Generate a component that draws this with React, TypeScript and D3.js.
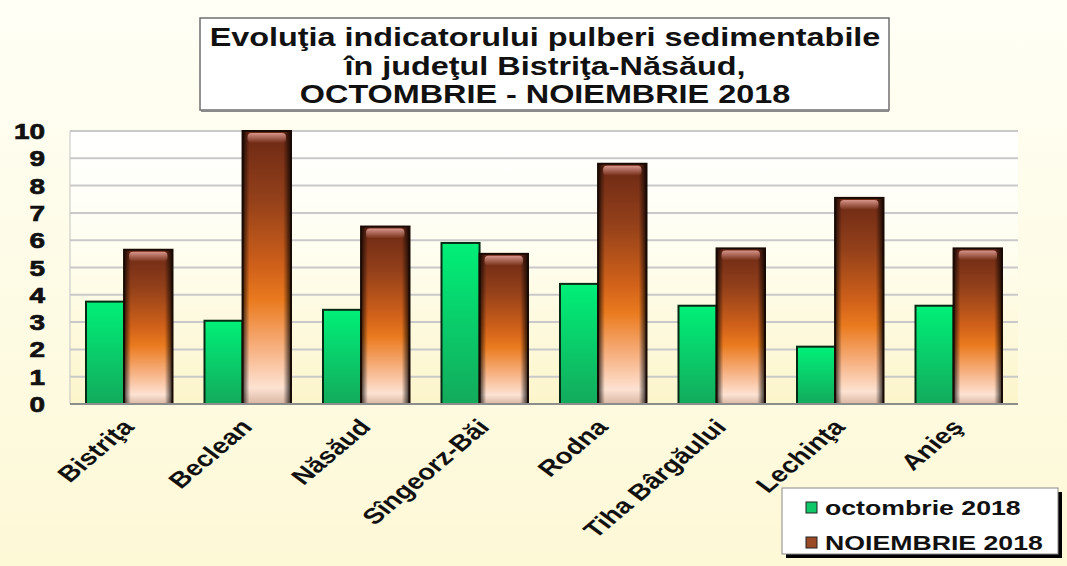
import React from 'react';
import * as d3 from 'd3';

const categories = ['Bistriţa', 'Beclean', 'Năsăud', 'Sîngeorz-Băi', 'Rodna', 'Tiha Bârgăului', 'Lechinţa', 'Anieş'];
const octombrie = [3.75, 3.05, 3.45, 5.9, 4.4, 3.6, 2.1, 3.6];
const noiembrie = [5.65, 10.0, 6.5, 5.5, 8.8, 5.7, 7.55, 5.7];
const yTicks = [0, 1, 2, 3, 4, 5, 6, 7, 8, 9, 10];
const titleLines = ['Evoluţia indicatorului pulberi sedimentabile', 'în judeţul Bistriţa-Năsăud,', 'OCTOMBRIE - NOIEMBRIE 2018'];
const legendLabels = ['octombrie 2018', 'NOIEMBRIE 2018'];

const W = 1067;
const H = 566;
const FONT = '"Liberation Sans", Arial, sans-serif';
const SX = 1.27; // the picture is stretched sideways

const App = () => {
  const plot = { left: 70, right: 1018, top: 131, bottom: 404 };

  const x = d3.scaleBand<string>()
    .domain(categories)
    .range([plot.left, plot.right])
    .paddingInner(0.27)
    .paddingOuter(0.135);
  const y = d3.scaleLinear().domain([0, 10]).range([plot.bottom, plot.top]);
  const bw = x.bandwidth();
  const x1 = d3.scaleLinear().domain([0, 1]).range([0, bw]);
  const split = 0.44;

  return (
    <svg width={W} height={H} style={{ position: 'absolute', left: 0, top: 0 }} fontFamily={FONT}>
      <defs>
        <linearGradient id="bg" x1="0" y1="0" x2="0" y2="1">
          <stop offset="0%" stopColor="#fffff6" />
          <stop offset="100%" stopColor="#fdf8d6" />
        </linearGradient>
        <linearGradient id="plotbg" x1="0" y1="0" x2="0" y2="1">
          <stop offset="0%" stopColor="#ffffff" />
          <stop offset="40%" stopColor="#fffef2" />
          <stop offset="100%" stopColor="#fcf5cb" />
        </linearGradient>
        <linearGradient id="green" x1="0" y1="0" x2="0" y2="1">
          <stop offset="0%" stopColor="#00f078" />
          <stop offset="100%" stopColor="#13aa5c" />
        </linearGradient>
        <linearGradient id="brown" x1="0" y1="0" x2="0" y2="1">
          <stop offset="0%" stopColor="#6b2814" />
          <stop offset="25%" stopColor="#93401a" />
          <stop offset="50%" stopColor="#d0611a" />
          <stop offset="62%" stopColor="#ea7a1e" />
          <stop offset="80%" stopColor="#f7b283" />
          <stop offset="94%" stopColor="#fde2d2" />
          <stop offset="100%" stopColor="#d9b7a3" />
        </linearGradient>
        <linearGradient id="edges" x1="0" y1="0" x2="1" y2="0">
          <stop offset="0%" stopColor="#000" stopOpacity={0.75} />
          <stop offset="14%" stopColor="#000" stopOpacity={0} />
          <stop offset="84%" stopColor="#000" stopOpacity={0} />
          <stop offset="100%" stopColor="#000" stopOpacity={0.8} />
        </linearGradient>
        <linearGradient id="hilite" x1="0" y1="0" x2="0" y2="1">
          <stop offset="0%" stopColor="#f3b0a8" stopOpacity={0.8} />
          <stop offset="100%" stopColor="#f3b0a8" stopOpacity={0} />
        </linearGradient>
      </defs>

      <rect x={0} y={0} width={W} height={H} fill="url(#bg)" />

      {/* title */}
      <rect x={200} y={18} width={689} height={92} fill="#fff" stroke="#6f6f6f" strokeWidth={1.5} />
      <line x1={201} x2={889} y1={111} y2={111} stroke="#8a8a8a" strokeWidth={2} />
      {titleLines.map((t, i) => (
        <text key={t} transform={`translate(545,${46 + i * 28.5}) scale(${SX},1)`} textAnchor="middle"
          fontSize={25.5} fontWeight="bold" fill="#111">{t}</text>
      ))}

      {/* plot area */}
      <rect x={plot.left} y={plot.top} width={plot.right - plot.left} height={plot.bottom - plot.top} fill="url(#plotbg)" />
      {yTicks.filter(t => t > 0).map(t => (
        <line key={t} x1={plot.left} x2={plot.right} y1={y(t)} y2={y(t)} stroke="#c9c9c9" strokeWidth={2} />
      ))}
      <line x1={plot.left} x2={plot.left} y1={plot.top} y2={plot.bottom} stroke="#c4c4c4" strokeWidth={1} />

      {yTicks.map(t => (
        <text key={t} transform={`translate(45,${y(t) + 8}) scale(${SX},1)`} textAnchor="end"
          fontSize={22} fontWeight="bold" fill="#111" stroke="#111" strokeWidth={0.7}>{t}</text>
      ))}

      {categories.map((c, i) => {
        const gx = x(c)!;
        const gw = x1(split) - x1(0);
        const bx = gx + x1(split);
        const bwid = x1(1) - x1(split);
        const yb = y(noiembrie[i]);
        const hb = y(0) - yb;
        return (
          <g key={c}>
            <rect x={gx + x1(0)} y={y(octombrie[i])} width={gw} height={y(0) - y(octombrie[i])}
              fill="url(#green)" stroke="#062b14" strokeWidth={2} />
            <rect x={bx} y={yb} width={bwid} height={hb} fill="url(#brown)" />
            <rect x={bx} y={yb} width={bwid} height={hb} fill="url(#edges)" />
            <rect x={bx + 5} y={yb + 2} width={bwid - 10} height={Math.min(10, hb)} rx={4} fill="url(#hilite)" />
            <rect x={bx} y={yb} width={bwid} height={hb} fill="none" stroke="#1a0a04" strokeWidth={2} />
          </g>
        );
      })}
      <line x1={plot.left} x2={plot.right} y1={plot.bottom} y2={plot.bottom} stroke="#8d8d8d" strokeWidth={2} />

      {categories.map(c => (
        <text key={c} transform={`translate(${x(c)! + bw / 2 + 6},${plot.bottom + 24}) scale(${SX},1) rotate(-47)`}
          textAnchor="end" fontSize={22} fontWeight="bold" fill="#111">{c}</text>
      ))}

      {/* legend */}
      <rect x={786} y={492} width={276} height={66} fill="#000" />
      <rect x={782} y={488} width={276} height={66} fill="#fff" stroke="#8a8a8a" strokeWidth={1} />
      {legendLabels.map((l, i) => (
        <g key={l}>
          <rect x={806} y={502 + i * 35} width={11} height={11}
            fill={i === 0 ? '#10c868' : '#9b4a28'} stroke="#222" strokeWidth={1} />
          <text transform={`translate(825,${515 + i * 35}) scale(${SX},1)`} fontSize={21} fontWeight="bold" fill="#111">{l}</text>
        </g>
      ))}
    </svg>
  );
};

export default App;
